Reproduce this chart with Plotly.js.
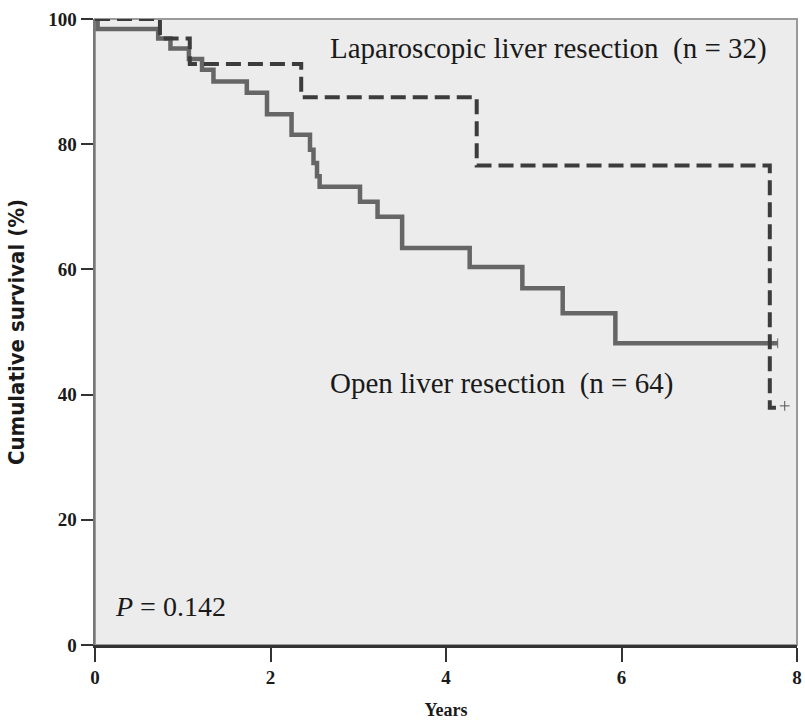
<!DOCTYPE html>
<html>
<head>
<meta charset="utf-8">
<script src="https://cdn.plot.ly/plotly-3.0.1.min.js"></script>
<style>
  html, body { margin: 0; padding: 0; background: #ffffff; }
  #chart { width: 805px; height: 727px; }
</style>
</head>
<body>
<div id="chart"></div>
<script>
// Open liver resection (n = 64): step times (years) and cumulative survival (%)
var openTime = [0, 0.03, 0.72, 0.86, 1.07, 1.22, 1.35, 1.73, 1.96, 2.24, 2.45, 2.49, 2.53, 2.56, 3.02, 3.22, 3.50, 4.27, 4.87, 5.33, 5.93, 7.78];
var openSurv = [100, 98.4, 96.9, 95.3, 93.6, 91.9, 90.0, 88.2, 84.8, 81.5, 79.1, 77.0, 74.9, 73.2, 70.8, 68.4, 63.4, 60.4, 57.0, 53.0, 48.2, 48.2];

// Laparoscopic liver resection (n = 32)
var lapTime = [0, 0.74, 1.08, 2.35, 4.35, 7.69, 7.76];
var lapSurv = [100, 96.9, 92.8, 87.5, 76.6, 37.9, 37.9];

// Censor marks at the end of follow-up
var openCensorTime = [7.78];
var openCensorSurv = [48.2];
var lapCensorTime = [7.86];
var lapCensorSurv = [38.2];

// Axis ticks
var xTicks = [0, 2, 4, 6, 8];
var yTicks = [0, 20, 40, 60, 80, 100];

// Text labels
var lapLabel = "Laparoscopic liver resection  (n = 32)";
var openLabel = "Open liver resection  (n = 64)";
var pLabel = "<i>P</i> = 0.142";
var xTitle = "Years";
var yTitle = "Cumulative survival (%)";

var traces = [
  {
    x: openTime, y: openSurv, type: "scatter", mode: "lines",
    line: { shape: "hv", color: "#666666", width: 4.5 },
    hoverinfo: "skip", showlegend: false
  },
  {
    x: lapTime, y: lapSurv, type: "scatter", mode: "lines",
    line: { shape: "hv", color: "#3c3c3c", width: 4, dash: "15px,7px" },
    hoverinfo: "skip", showlegend: false
  },
  {
    x: openCensorTime, y: openCensorSurv, type: "scatter", mode: "markers",
    marker: { symbol: "line-ns", size: 7, line: { color: "#666666", width: 1 } },
    hoverinfo: "skip", showlegend: false
  },
  {
    x: lapCensorTime, y: lapCensorSurv, type: "scatter", mode: "markers",
    marker: { symbol: "cross-thin", size: 7, line: { color: "#555555", width: 1 } },
    hoverinfo: "skip", showlegend: false
  }
];

var tickFont = { family: "Liberation Serif, Times New Roman, serif", size: 19, color: "#1a1a1a", weight: "bold" };
var annFont = { family: "Liberation Serif, Times New Roman, serif", size: 29, color: "#1a1a1a" };

var layout = {
  width: 805, height: 727,
  margin: { l: 95, r: 8, t: 19, b: 82 },
  paper_bgcolor: "#ffffff",
  plot_bgcolor: "#ececec",
  showlegend: false,
  xaxis: {
    range: [0, 8], tickvals: xTicks, ticktext: xTicks.map(String),
    showgrid: false, zeroline: false,
    showline: true, linecolor: "#333333", linewidth: 2.5,
    ticks: "outside", ticklen: 14, tickwidth: 2, tickcolor: "#333333",
    tickfont: tickFont,
    title: { text: "<b>" + xTitle + "</b>", font: { family: "Liberation Serif, serif", size: 18, color: "#1a1a1a" }, standoff: 16 }
  },
  yaxis: {
    range: [0, 100], tickvals: yTicks, ticktext: yTicks.map(String),
    showgrid: false, zeroline: false,
    showline: true, linecolor: "#777777", linewidth: 2.5,
    ticks: "outside", ticklen: 12, tickwidth: 2, tickcolor: "#333333",
    tickfont: tickFont,
    title: { text: "<b>" + yTitle + "</b>", font: { family: "Liberation Sans Narrow, DejaVu Sans Condensed, Arial Narrow, sans-serif", size: 22, color: "#1a1a1a" }, standoff: 18 }
  },
  shapes: [
    { type: "rect", xref: "paper", yref: "paper", x0: 0, x1: 1, y0: 0, y1: 1,
      line: { color: "#9a9a9a", width: 2 }, fillcolor: "rgba(0,0,0,0)", layer: "below" }
  ],
  annotations: [
    { xref: "x", yref: "y", x: 2.65, y: 95.3, xanchor: "left", yanchor: "middle", showarrow: false,
      text: lapLabel, font: annFont },
    { xref: "x", yref: "y", x: 2.66, y: 41.8, xanchor: "left", yanchor: "middle", showarrow: false,
      text: openLabel, font: annFont },
    { xref: "x", yref: "y", x: 0.2, y: 6.1, xanchor: "left", yanchor: "middle", showarrow: false,
      text: pLabel, font: { family: "Liberation Serif, Times New Roman, serif", size: 28, color: "#1a1a1a" } }
  ]
};

Plotly.newPlot("chart", traces, layout, { staticPlot: true, displayModeBar: false });
</script>
</body>
</html>
